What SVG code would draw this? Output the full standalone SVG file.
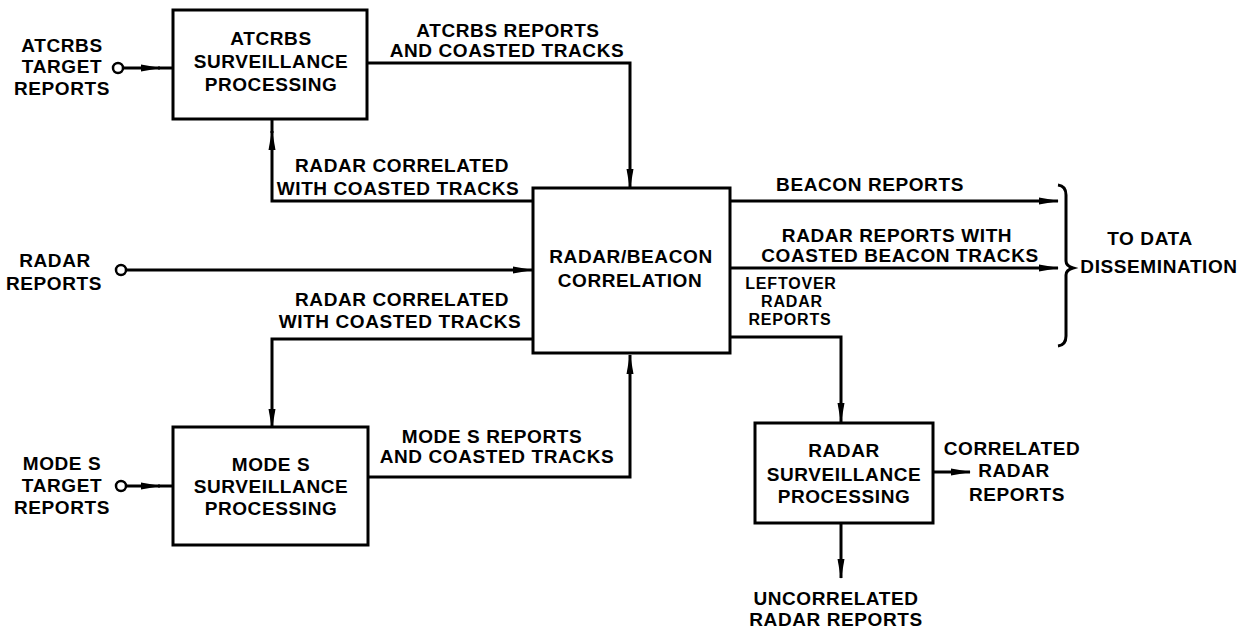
<svg xmlns="http://www.w3.org/2000/svg" width="1243" height="628" viewBox="0 0 1243 628">
<defs>
<style>
text{font-family:"Liberation Sans",Arial,sans-serif;font-weight:bold;font-size:19px;fill:#000;text-anchor:middle;letter-spacing:0.6px}
.sm{font-size:16px;letter-spacing:0.8px}
.box{fill:#fff;stroke:#000;stroke-width:3}
.ln{fill:none;stroke:#000;stroke-width:3}
.ar{fill:none;stroke:#000;stroke-width:3;marker-end:url(#ah)}
.term{fill:#fff;stroke:#000;stroke-width:2.5}
</style>
<marker id="ah" markerUnits="userSpaceOnUse" viewBox="0 0 20 8" markerWidth="20" markerHeight="8" refX="19" refY="4" orient="auto">
<path d="M0,0.5 L20,4 L0,7.5 Z" fill="#000"/>
</marker>
</defs>
<rect width="1243" height="628" fill="#fff"/>

<g id="connectors">
<!-- ATCRBS input -->
<path class="ar" d="M123,68 H160"/>
<path class="ln" d="M158,68 H173"/>
<circle class="term" cx="118" cy="68" r="5"/>
<!-- ATCRBS output -->
<path class="ar" d="M367,63 H630 V188"/>
<!-- feedback up to ATCRBS -->
<path class="ar" d="M533,201 H272 V131"/>
<path class="ln" d="M272,133 V119"/>
<!-- radar reports -->
<path class="ar" d="M126,270 H532"/>
<circle class="term" cx="121" cy="270" r="5"/>
<!-- beacon reports -->
<path class="ar" d="M730,201 H1058"/>
<!-- radar reports with coasted -->
<path class="ar" d="M730,268 H1058"/>
<!-- leftover -->
<path class="ar" d="M730,337 H841 V422"/>
<!-- lower feedback to Mode S -->
<path class="ar" d="M533,339 H272 V428"/>
<!-- Mode S output -->
<path class="ar" d="M368,477 H630 V355"/>
<!-- Mode S input -->
<path class="ar" d="M126,486 H160"/>
<path class="ln" d="M158,486 H173"/>
<circle class="term" cx="121" cy="486" r="5"/>
<!-- RSP outputs -->
<path class="ar" d="M933,472 H970"/>
<path class="ar" d="M841,523 V578"/>
<!-- brace -->
<path class="ln" d="M1058,185 Q1066,186 1066,195 V261 Q1066,266 1073,268 Q1066,270 1066,275 V336 Q1066,345 1058,346" stroke-width="2.5"/>
</g>

<g id="atcrbs">
<rect class="box" x="173" y="10" width="194" height="109"/>
<text x="271" y="45">ATCRBS</text>
<text x="271" y="68">SURVEILLANCE</text>
<text x="271" y="91">PROCESSING</text>
</g>

<g id="rb">
<rect class="box" x="533" y="188" width="197" height="165"/>
<text x="631" y="263">RADAR/BEACON</text>
<text x="630" y="287">CORRELATION</text>
</g>

<g id="modes">
<rect class="box" x="173" y="427" width="195" height="118"/>
<text x="271" y="471">MODE S</text>
<text x="271" y="493">SURVEILLANCE</text>
<text x="271" y="515">PROCESSING</text>
</g>

<g id="rsp">
<rect class="box" x="755" y="423" width="178" height="100"/>
<text x="844" y="457">RADAR</text>
<text x="844" y="481">SURVEILLANCE</text>
<text x="844" y="503">PROCESSING</text>
</g>

<g id="labels">
<text x="62" y="52">ATCRBS</text>
<text x="62" y="73">TARGET</text>
<text x="62" y="95">REPORTS</text>

<text x="508" y="37">ATCRBS REPORTS</text>
<text x="507" y="57">AND COASTED TRACKS</text>

<text x="402" y="172">RADAR CORRELATED</text>
<text x="398" y="195">WITH COASTED TRACKS</text>

<text x="55" y="267">RADAR</text>
<text x="54" y="290">REPORTS</text>

<text x="402" y="306">RADAR CORRELATED</text>
<text x="400" y="328">WITH COASTED TRACKS</text>

<text x="492" y="443">MODE S REPORTS</text>
<text x="497" y="463">AND COASTED TRACKS</text>

<text x="62" y="470">MODE S</text>
<text x="62" y="492">TARGET</text>
<text x="62" y="514">REPORTS</text>

<text x="870" y="191">BEACON REPORTS</text>
<text x="897" y="242">RADAR REPORTS WITH</text>
<text x="900" y="262">COASTED BEACON TRACKS</text>

<text class="sm" x="791" y="289">LEFTOVER</text>
<text class="sm" x="792" y="307">RADAR</text>
<text class="sm" x="790" y="325">REPORTS</text>

<text x="1150" y="245">TO DATA</text>
<text x="1159" y="273">DISSEMINATION</text>

<text x="1012" y="455">CORRELATED</text>
<text x="1014" y="477">RADAR</text>
<text x="1017" y="501">REPORTS</text>

<text x="836" y="605">UNCORRELATED</text>
<text x="836" y="626">RADAR REPORTS</text>
</g>
</svg>
